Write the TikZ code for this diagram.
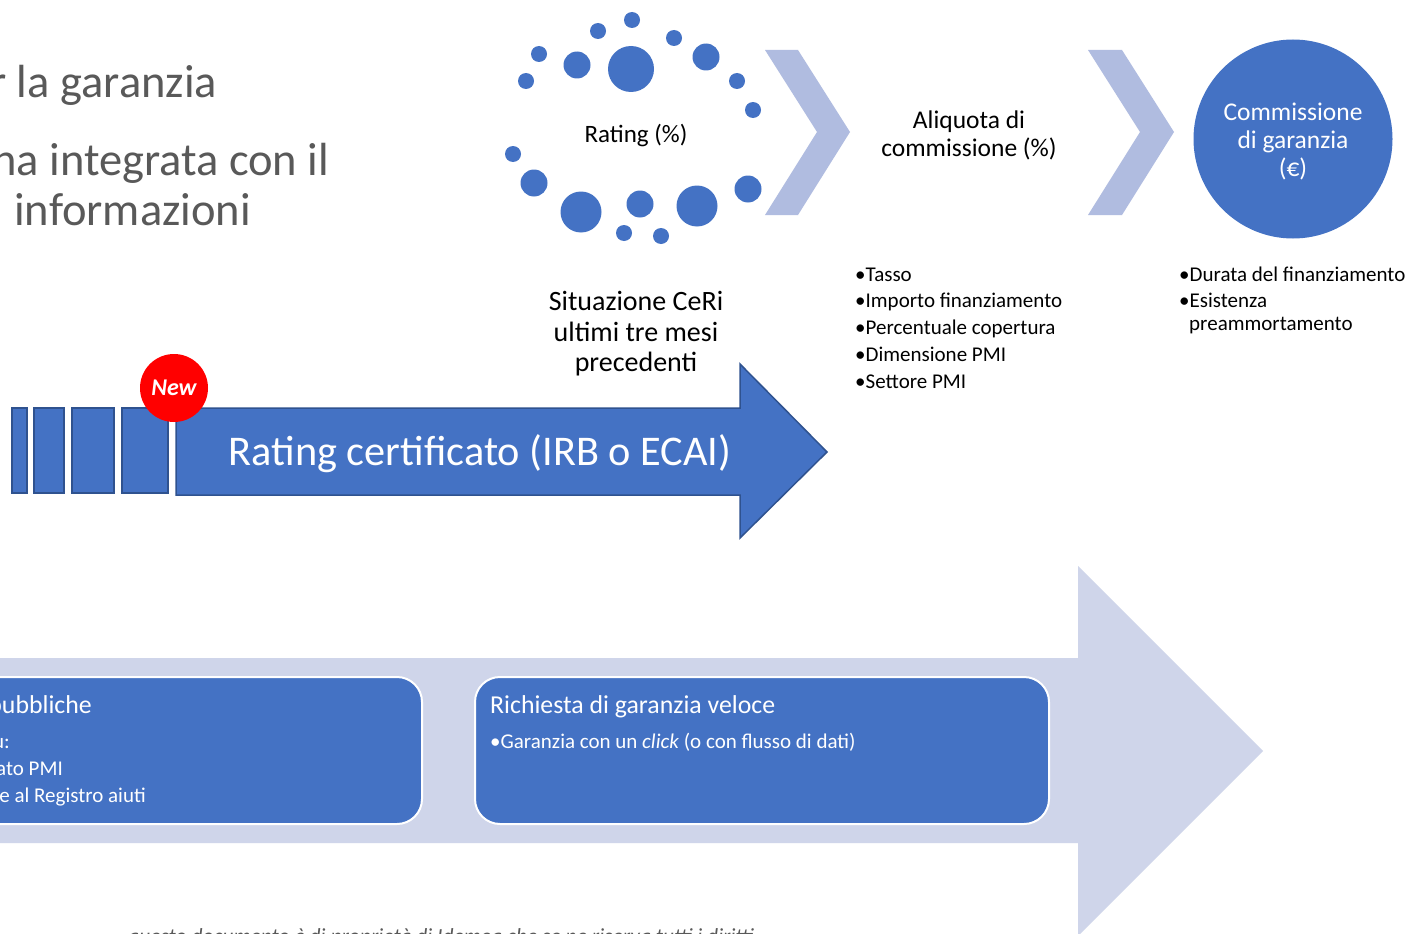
\documentclass[tikz,border=0pt]{standalone}
\usepackage{fontspec}
\setmainfont{Carlito}
\definecolor{blu}{HTML}{4472C4}
\definecolor{bluedge}{HTML}{2F528F}
\definecolor{chev}{HTML}{B0BCE0}
\definecolor{pale}{HTML}{CFD5EA}
\definecolor{graytxt}{HTML}{595959}
\definecolor{newred}{HTML}{FF0000}
\begin{document}
\begin{tikzpicture}[x=1pt,y=-1pt,
  bigtxt/.style={anchor=base west, inner sep=0, text=graytxt, font=\fontsize{46.5}{50}\selectfont},
  blackmid/.style={inner sep=0, align=center, text=black, font=\fontsize{25.5}{28}\selectfont},
  listtxt/.style={anchor=base west, inner sep=0, text=black, font=\fontsize{21}{24}\selectfont},
  boxtitle/.style={anchor=base west, inner sep=0, text=white, font=\fontsize{25.8}{28}\selectfont},
  boxline/.style={anchor=base west, inner sep=0, text=white, font=\fontsize{21}{24}\selectfont},
  chevron/.style={fill=chev, draw=none},
  blueshape/.style={fill=blu, draw=bluedge, line width=1.5pt},
  roundbox/.style={fill=blu, draw=white, line width=2pt, rounded corners=25pt},
  dotstyle/.style={fill=blu, draw=none}]
\useasboundingbox (0,0) rectangle (1409,934);
\fill[white] (0,0) rectangle (1409,934);

% top-left title fragments
\node[bigtxt] (t1) at (-10,98) {r la garanzia};
\node[bigtxt] (t2) at (-8,175) {na integrata con il};
\node[bigtxt] (t3) at (14,225) {informazioni};

% ring of dots
\foreach \px/\py/\rr [count=\i] in {632/20/8, 598/31/8, 674/38/8, 539/54/8, 577/65/13.5,
    631/69/23, 706/57/13.5, 526/81/8, 737/81/8, 753/110/8, 513/154/8, 534/183/13.5,
    581/212/20.5, 640/204/13.5, 697/206/20.5, 748/189/13.5, 624/233/8, 661/236/8}
  \fill[dotstyle] (\px,\py) circle[radius=\rr];
\node[blackmid, font=\fontsize{25}{28}\selectfont] (rating) at (636,136) {Rating (\%)};

% chevrons
\fill[chevron] (765,50) -- (798,50) -- (850,132) -- (798,215) -- (765,215) -- (817,132) -- cycle;
\fill[chevron] (1088,50) -- (1122,50) -- (1174,132) -- (1122,215) -- (1088,215) -- (1140,132) -- cycle;

\node[blackmid] (aliq) at (969,135) {Aliquota di\\commissione (\%)};

\node[circle, fill=blu, draw=none, minimum size=199pt, inner sep=0] (comm) at (1293,139) {};
\node[blackmid, text=white] (commtxt) at (1293,141) {Commissione\\di garanzia\\(€)};

% bullet lists
\node[listtxt] (l1) at (855,281) {•Tasso};
\node[listtxt] (l2) at (855,307) {•Importo finanziamento};
\node[listtxt] (l3) at (855,334) {•Percentuale copertura};
\node[listtxt] (l4) at (855,361) {•Dimensione PMI};
\node[listtxt] (l5) at (855,388) {•Settore PMI};

\node[listtxt] (r1) at (1179,281) {•Durata del finanziamento};
\node[listtxt] (r2) at (1179,307) {•Esistenza};
\node[listtxt] (r3) at (1189,330) {preammortamento};

% CeRi text
\node[blackmid, font=\fontsize{28}{30.5}\selectfont] (ceri) at (636,334) {Situazione CeRi\\ultimi tre mesi\\precedenti};

% small rectangles and big arrow
\draw[blueshape] (12,408) rectangle (27,493);
\draw[blueshape] (34,408) rectangle (64,493);
\draw[blueshape] (72,408) rectangle (114,493);
\draw[blueshape] (122,408) rectangle (168,493);
\draw[blueshape] (176,408) -- (740,408) -- (740,364) -- (827,452) -- (740,538) -- (740,495) -- (176,495) -- cycle;
\node[inner sep=0, text=white, font=\fontsize{42.3}{46}\selectfont] (rc) at (480,454) {Rating certificato (IRB o ECAI)};

\node[circle, fill=newred, draw=none, minimum size=68pt, inner sep=0, text=white,
      font=\fontsize{24}{28}\selectfont\bfseries\itshape] (new) at (174,388) {New};

% bottom pale arrow
\fill[pale] (-5,658) -- (1078,658) -- (1078,566) -- (1263,751) -- (1078,936) -- (1078,843) -- (-5,843) -- cycle;

% rounded boxes
\draw[roundbox] (-40,677) rectangle (422,824);
\draw[roundbox] (475,677) rectangle (1049,824);

\node[boxtitle, anchor=base east] (b1t) at (92,713) {pubbliche};
\node[boxline, anchor=base east] (b1a) at (10,748) {u:};
\node[boxline, anchor=base east] (b1b) at (63,775) {ato PMI};
\node[boxline, anchor=base east] (b1c) at (146,802) {e al Registro aiuti};

\node[boxtitle] (b2t) at (490,713) {Richiesta di garanzia veloce};
\node[boxline] (b2a) at (490,748) {•Garanzia con un \textit{click} (o con flusso di dati)};

% footer (mostly cut by the page edge)
\node[anchor=base west, inner sep=0, text=graytxt, font=\fontsize{21.5}{24}\selectfont\itshape] (foot) at (128,943)
  {questo documento è di proprietà di Idemea che se ne riserva tutti i diritti};
\end{tikzpicture}
\end{document}
